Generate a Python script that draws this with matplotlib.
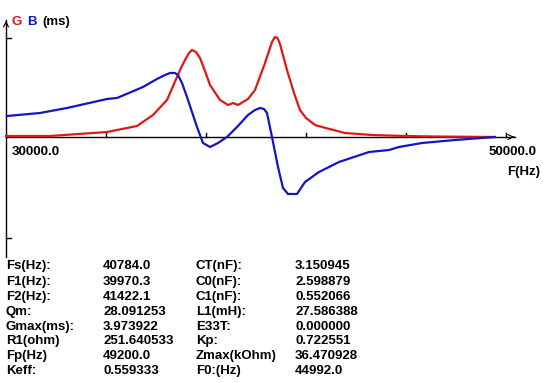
import matplotlib
matplotlib.use("Agg")
import matplotlib.pyplot as plt

# G curve (red), frequencies in Hz, values in ms
g_freq = [30000, 31760, 34040, 35240, 35880, 36440, 36840, 37000, 37160, 37320, 37440, 37600, 37760,
          37960, 38160, 38560, 38880, 39080, 39280, 39680, 39960, 40360, 40520, 40640, 40760, 40860, 40960,
          41240, 41520, 41760, 42000, 42360, 42640, 43560, 44640, 45960, 47160, 49560]
g_val = [0.04, 0.04, 0.20, 0.44, 0.88, 1.48, 2.40, 2.76, 3.08, 3.36, 3.48, 3.40, 3.16,
         2.64, 2.08, 1.48, 1.28, 1.36, 1.28, 1.52, 1.88, 2.96, 3.44, 3.80, 4.00, 3.96, 3.72,
         2.68, 1.76, 1.08, 0.76, 0.48, 0.40, 0.16, 0.08, 0.04, 0.02, 0.00]

# B curve (blue)
b_freq = [30040, 31360, 32440, 34040, 34440, 35480, 36040, 36360, 36560, 36760, 36880, 37040, 37240,
          37640, 37880, 38160, 38480, 38840, 39240, 39680, 39960, 40160, 40320, 40440, 40640,
          40880, 41080, 41280, 41640, 41960, 42520, 43320, 44520, 45320, 45720,
          46640, 47960, 49560]
b_val = [0.84, 0.96, 1.16, 1.52, 1.56, 2.00, 2.32, 2.48, 2.56, 2.56, 2.48, 2.16, 1.60,
         0.40, -0.24, -0.40, -0.24, 0.00, 0.40, 0.88, 1.08, 1.16, 1.12, 0.96, 0.00,
         -1.20, -2.04, -2.28, -2.28, -1.80, -1.40, -1.00, -0.60, -0.52, -0.40,
         -0.24, -0.12, 0.00]

x_ticks = [34000, 38000, 42000, 46000, 50000]
y_ticks = [3.96, -4.04]

# parameter table
labels_left = ["Fs(Hz):", "F1(Hz):", "F2(Hz):", "Qm:", "Gmax(ms):", "R1(ohm)", "Fp(Hz)", "Keff:"]
values_left = ["40784.0", "39970.3", "41422.1", "28.091253", "3.973922", "251.640533", "49200.0", "0.559333"]
labels_right = ["CT(nF):", "C0(nF):", "C1(nF):", "L1(mH):", "E33T:", "Kp:", "Zmax(kOhm)", "F0:(Hz)"]
values_right = ["3.150945", "2.598879", "0.552066", "27.586388", "0.000000", "0.722551", "36.470928", "44992.0"]

fig = plt.figure(figsize=(5.44, 3.83), dpi=100)
ax = fig.add_axes([0, 0, 1, 1])
# 40 Hz per pixel, 25 px per ms, origin at pixel (6, 137)
ax.set_xlim(30000 - 6 * 40, 30000 + 538 * 40)
ax.set_ylim(-246 / 25, 137 / 25)
ax.axis("off")

font = {"family": "Liberation Sans", "weight": "bold", "size": 9.5}

# axes
ax.plot([30000, 50360], [0, 0], color="black", lw=1)
ax.plot([30000, 30000], [-120 / 25, 117 / 25], color="black", lw=1)
ax.annotate("", xy=(50440, 0), xytext=(50200, 0),
            arrowprops=dict(arrowstyle="->", lw=0.8, color="black", mutation_scale=9))
ax.annotate("", xy=(30000, 119 / 25), xytext=(30000, 110 / 25),
            arrowprops=dict(arrowstyle="->", lw=0.8, color="black", mutation_scale=9))
for t in x_ticks:
    ax.plot([t, t], [0, 0.16], color="black", lw=1)
for t in y_ticks:
    ax.plot([30000, 30200], [t, t], color="black", lw=1)

ax.plot(g_freq, g_val, color="#dd1818", lw=1.6)
ax.plot(b_freq, b_val, color="#1414c4", lw=1.6)

# header / axis labels
ax.text(30240, 4.6, "G", color="#dd1818", va="center", **font)
ax.text(30840, 4.6, "B", color="#1414c4", va="center", **font)
ax.text(31440, 4.6, "(ms)", color="black", va="center", **font)
ax.text(30240, -0.6, "30000.0", color="black", va="center", **font)
ax.text(51240, -0.6, "50000.0", color="black", va="center", ha="right", **font)
ax.text(51360, -1.4, "F(Hz)", color="black", va="center", ha="right", **font)

rows_y = [266, 282, 297, 312, 327, 341, 356, 371]
for i, py in enumerate(rows_y):
    y = (137 - py) / 25
    ax.text(30000, y, labels_left[i], va="center", **font)
    ax.text(30000 + 97 * 40, y, values_left[i], va="center", **font)
    ax.text(30000 + 190 * 40, y, labels_right[i], va="center", **font)
    ax.text(30000 + 289 * 40, y, values_right[i], va="center", **font)

fig.savefig("out.png", dpi=100)
